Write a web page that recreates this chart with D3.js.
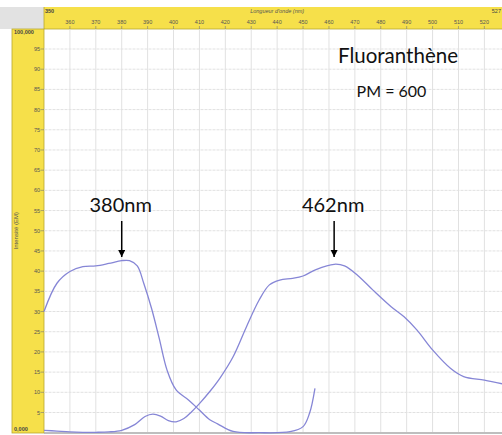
<!DOCTYPE html>
<html><head><meta charset="utf-8">
<script src="https://cdn.jsdelivr.net/npm/d3@7"></script>
<style>html,body{margin:0;padding:0;background:#fff;overflow:hidden}</style>
</head><body>
<svg id="c" width="502" height="435"></svg>
<script>
// ---- data ----
const xTicks = [360,370,380,390,400,410,420,430,440,450,460,470,480,490,500,510,520];
const yTicks = [5,10,15,20,25,30,35,40,45,50,55,60,65,70,75,80,85,90,95];
const excitationWl = [350,355,360,365,370,375,380,383,386,388.5,391.5,394.5,397.5,401,406,410,414,417,423,433,445,450,452.5,454.6];
const excitationVal = [30,37,39.9,41.1,41.3,41.9,42.6,42.6,41.3,37,30.8,23.3,15.5,10.6,8,5.6,3.2,2.2,0.3,0,0.25,1.5,4.8,11];
const emissionWl = [350,355,360,365,370,375,380,385,389,392,395,398,401,404,407,410,414,418,423,428,433,437,441,446,450,455,462,466,471,477,484,489,494,500,507,512,520,527];
const emissionVal = [0.6,0.4,0.2,0.1,0.1,0.2,0.6,2.0,4.0,4.6,4.1,3.0,2.7,3.5,5.2,7.2,10.2,13.6,18.8,26,32.8,36.6,37.8,38.2,38.8,40.4,41.7,41.3,39,35.3,31.2,28.7,25.4,20.5,15.9,13.9,13,12.1];
const peaks = [{label:"380nm", wl:380}, {label:"462nm", wl:462}];
const title = "Fluoranthène";
const subtitle = "PM = 600";
const xTitle = "Longueur d'onde (nm)";
const yTitle = "Intensité (EM)";
const xMaxLabel = "527";

// ---- drawing ----
const svg = d3.select("#c");
const W = 502, H = 435;
const x = d3.scaleLinear().domain([350, 526.8]).range([44, 502]);
const y = d3.scaleLinear().domain([0, 100]).range([432.7, 28.8]);
const yellow = "#f6e04a";
const tickFont = "Liberation Sans, Arial, sans-serif";

// top-left gray corner
svg.append("rect").attr("x",0).attr("y",7).attr("width",44).attr("height",22).attr("fill","#e2e2e2");
// top band
svg.append("rect").attr("x",44).attr("y",7).attr("width",W-44).attr("height",22).attr("fill",yellow);
svg.append("line").attr("x1",44).attr("x2",W).attr("y1",29).attr("y2",29).attr("stroke","#b8a830").attr("stroke-width",0.8);
// left band
svg.append("rect").attr("x",12).attr("y",29).attr("width",32).attr("height",404).attr("fill",yellow)
  .attr("stroke","#b8a830").attr("stroke-width",0.8);
svg.append("line").attr("x1",44).attr("x2",44).attr("y1",7).attr("y2",29).attr("stroke","#b8a830").attr("stroke-width",0.8);

// grid
const g = svg.append("g");
g.selectAll("line.v").data(xTicks).enter().append("line")
  .attr("x1",d=>x(d)).attr("x2",d=>x(d)).attr("y1",29.5).attr("y2",432)
  .attr("stroke","#e1e1e1").attr("stroke-width",1);
g.selectAll("line.h").data(yTicks).enter().append("line")
  .attr("x1",44.5).attr("x2",W).attr("y1",d=>y(d)).attr("y2",d=>y(d))
  .attr("stroke","#e1e1e1").attr("stroke-width",1).attr("stroke-dasharray","3,1");

// bottom line
svg.append("line").attr("x1",44).attr("x2",W).attr("y1",433).attr("y2",433).attr("stroke","#a8a8a8").attr("stroke-width",1.6);

// top axis labels
const topAx = svg.append("g").attr("font-family",tickFont).attr("font-size",5.5).attr("fill","#555");
topAx.selectAll("text.t").data(xTicks).enter().append("text")
  .attr("x",d=>x(d)).attr("y",24).attr("text-anchor","middle").text(d=>d);
topAx.selectAll("line.t").data(xTicks).enter().append("line")
  .attr("x1",d=>x(d)).attr("x2",d=>x(d)).attr("y1",26).attr("y2",29).attr("stroke","#777").attr("stroke-width",0.6);
topAx.append("text").attr("x",45).attr("y",13).attr("font-weight","bold").attr("fill","#444").text("350");
topAx.append("text").attr("x",501).attr("y",13).attr("text-anchor","end").attr("fill","#444").text(xMaxLabel);
topAx.append("text").attr("x",x(440)).attr("y",13).attr("text-anchor","middle").attr("font-style","italic").attr("font-size",5.5).text(xTitle);

// left axis labels
const leftAx = svg.append("g").attr("font-family",tickFont).attr("font-size",5.5).attr("fill","#555");
leftAx.selectAll("text.t").data(yTicks).enter().append("text")
  .attr("x",40).attr("y",d=>y(d)+2).attr("text-anchor","end").text(d=>d);
leftAx.selectAll("line.t").data(yTicks).enter().append("line")
  .attr("x1",40.5).attr("x2",44).attr("y1",d=>y(d)).attr("y2",d=>y(d)).attr("stroke","#777").attr("stroke-width",0.6);
leftAx.append("text").attr("x",14).attr("y",34).attr("font-weight","bold").attr("fill","#444").text("100,000");
leftAx.append("text").attr("x",14).attr("y",431).attr("font-weight","bold").attr("fill","#444").text("0,000");
leftAx.append("text").attr("transform",`translate(18,${(y(0)+y(100))/2}) rotate(-90)`)
  .attr("text-anchor","middle").attr("font-size",6).text(yTitle);

// curves
const line = d3.line().x(d=>x(d[0])).y(d=>y(d[1])).curve(d3.curveCatmullRom.alpha(0.5));
const exc = excitationWl.map((w,i)=>[w, excitationVal[i]]);
const emi = emissionWl.map((w,i)=>[w, emissionVal[i]]);
[exc, emi].forEach(data=>{
  svg.append("path").datum(data).attr("d",line).attr("fill","none")
    .attr("stroke","#8686d6").attr("stroke-width",1.3);
});

// annotations
const ann = svg.append("g").attr("font-family","Lato, 'Open Sans', sans-serif").attr("fill","#111");
svg.append("defs").append("marker").attr("id","ah").attr("viewBox","0 0 10 10")
  .attr("refX",10).attr("refY",5).attr("markerWidth",5).attr("markerHeight",5).attr("orient","auto")
  .append("path").attr("d","M0,0 L10,5 L0,10 z").attr("fill","#000");
peaks.forEach(p=>{
  const px = x(p.wl);
  ann.append("text").attr("x",px-1).attr("y",212).attr("text-anchor","middle").attr("font-size",20).text(p.label);
  ann.append("line").attr("x1",px).attr("x2",px).attr("y1",221).attr("y2",257)
    .attr("stroke","#000").attr("stroke-width",1.5).attr("marker-end","url(#ah)");
});
ann.append("text").attr("x",398).attr("y",63).attr("text-anchor","middle").attr("font-size",20.5).text(title);
ann.append("text").attr("x",391.5).attr("y",97).attr("text-anchor","middle").attr("font-size",16).text(subtitle);
</script>
</body></html>
